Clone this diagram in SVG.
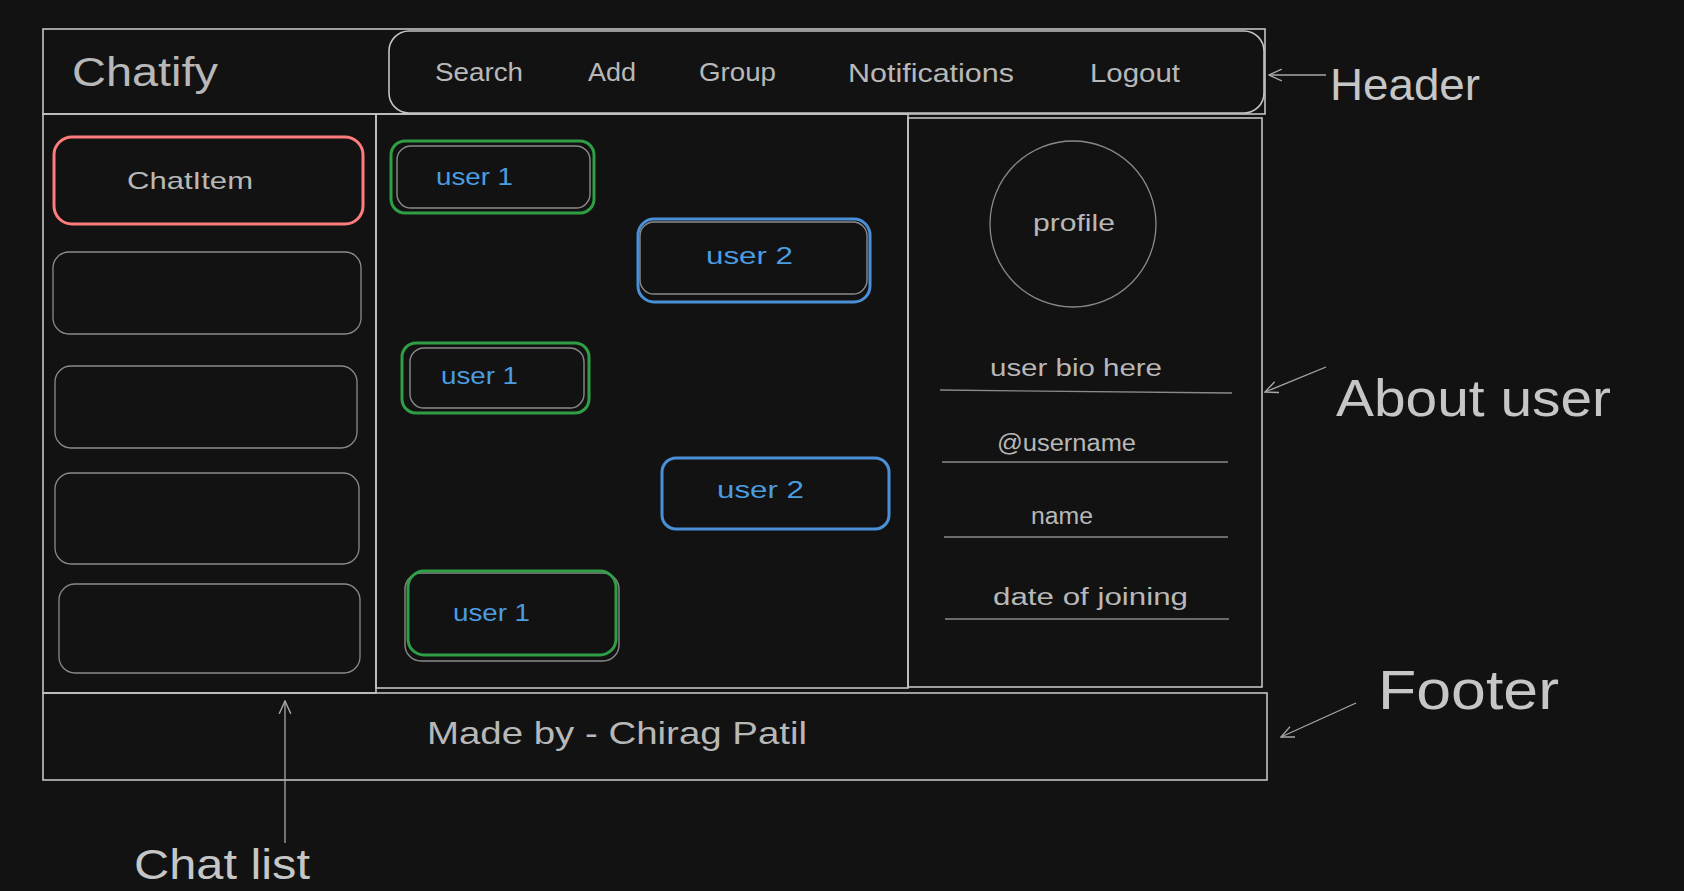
<svg xmlns="http://www.w3.org/2000/svg" width="1684" height="891" viewBox="0 0 1684 891">
<defs>
<style>
.bg{fill:#121212}
.frame{fill:none;stroke:#c4c4c4;stroke-width:1.6}
.thin{fill:none;stroke:#8a8a8a;stroke-width:1.3}
.inner{fill:none;stroke:#8a8a8a;stroke-width:1.4}
.green{fill:none;stroke:#2f9e44;stroke-width:3}
.blue{fill:none;stroke:#4a90d9;stroke-width:3}
.red{fill:none;stroke:#ff7c7c;stroke-width:3}
.t{font-family:"Liberation Sans",Arial,sans-serif;fill:#b8b8b8}
.tb{font-family:"Liberation Sans",Arial,sans-serif;fill:#4a9de0}
.lbl{font-family:"Liberation Sans",Arial,sans-serif;fill:#c6c6c6}
.conn{fill:none;stroke:#a8a8a8;stroke-width:1.3}
</style>
<marker id="ah" viewBox="0 0 12 12" refX="11" refY="6" markerWidth="14" markerHeight="14" markerUnits="userSpaceOnUse" orient="auto">
<path d="M0,1 L11,6 L0,11" fill="none" stroke="#a8a8a8" stroke-width="1.2"/>
</marker>
</defs>
<rect class="bg" x="0" y="0" width="1684" height="891"/>

<g id="header">
<rect class="frame" x="43" y="29" width="1222" height="85"/>
<text class="t" x="72" y="86" font-size="40" textLength="146" lengthAdjust="spacingAndGlyphs">Chatify</text>
</g>
<g id="nav">
<rect class="frame" x="389" y="31" width="875" height="82" rx="20"/>
<text class="t" x="435" y="81" font-size="25" textLength="88" lengthAdjust="spacingAndGlyphs">Search</text>
<text class="t" x="588" y="81" font-size="25" textLength="48" lengthAdjust="spacingAndGlyphs">Add</text>
<text class="t" x="699" y="81" font-size="25" textLength="77" lengthAdjust="spacingAndGlyphs">Group</text>
<text class="t" x="848" y="82" font-size="25" textLength="166" lengthAdjust="spacingAndGlyphs">Notifications</text>
<text class="t" x="1090" y="82" font-size="25" textLength="90" lengthAdjust="spacingAndGlyphs">Logout</text>
</g>

<g id="chat-list">
<rect class="frame" x="43" y="114" width="333" height="579"/>
</g>
<g id="chat-item-1">
<rect class="red" x="54" y="137" width="309" height="87" rx="18"/>
<text class="t" x="127" y="189" font-size="24" textLength="126" lengthAdjust="spacingAndGlyphs">ChatItem</text>
</g>
<g id="chat-item-2"><rect class="thin" x="53" y="252" width="308" height="82" rx="16"/></g>
<g id="chat-item-3"><rect class="thin" x="55" y="366" width="302" height="82" rx="16"/></g>
<g id="chat-item-4"><rect class="thin" x="55" y="473" width="304" height="91" rx="16"/></g>
<g id="chat-item-5"><rect class="thin" x="59" y="584" width="301" height="89" rx="16"/></g>

<g id="chat-area">
<rect class="frame" x="376" y="114" width="532" height="574"/>
</g>
<g id="msg-1">
<rect class="inner" x="397" y="146" width="193" height="62" rx="14"/>
<rect class="green" x="391" y="141" width="203" height="72" rx="14"/>
<text class="tb" x="436" y="185" font-size="24" textLength="77" lengthAdjust="spacingAndGlyphs">user 1</text>
</g>
<g id="msg-2">
<rect class="inner" x="640" y="222" width="227" height="72" rx="14"/>
<rect class="blue" x="638" y="219" width="232" height="83" rx="16"/>
<text class="tb" x="706" y="264" font-size="24" textLength="87" lengthAdjust="spacingAndGlyphs">user 2</text>
</g>
<g id="msg-3">
<rect class="inner" x="410" y="348" width="174" height="60" rx="14"/>
<rect class="green" x="402" y="343" width="187" height="70" rx="14"/>
<text class="tb" x="441" y="384" font-size="24" textLength="77" lengthAdjust="spacingAndGlyphs">user 1</text>
</g>
<g id="msg-4">
<rect class="blue" x="662" y="458" width="227" height="71" rx="14"/>
<text class="tb" x="717" y="498" font-size="24" textLength="87" lengthAdjust="spacingAndGlyphs">user 2</text>
</g>
<g id="msg-5">
<rect class="inner" x="405" y="573" width="214" height="88" rx="16"/>
<rect class="green" x="408" y="571" width="208" height="84" rx="16"/>
<text class="tb" x="453" y="621" font-size="24" textLength="77" lengthAdjust="spacingAndGlyphs">user 1</text>
</g>

<g id="about-panel">
<rect class="frame" x="908" y="118" width="354" height="569"/>
</g>
<g id="profile">
<circle class="thin" cx="1073" cy="224" r="83"/>
<text class="t" x="1033" y="231" font-size="24" textLength="82" lengthAdjust="spacingAndGlyphs">profile</text>
</g>
<g id="bio">
<text class="t" x="990" y="376" font-size="23" textLength="172" lengthAdjust="spacingAndGlyphs">user bio here</text>
<line class="thin" x1="940" y1="390" x2="1232" y2="393"/>
</g>
<g id="username">
<text class="t" x="997" y="451" font-size="23" textLength="139" lengthAdjust="spacingAndGlyphs">@username</text>
<line class="thin" x1="942" y1="462" x2="1228" y2="462"/>
</g>
<g id="name">
<text class="t" x="1031" y="524" font-size="23" textLength="62" lengthAdjust="spacingAndGlyphs">name</text>
<line class="thin" x1="944" y1="537" x2="1228" y2="537"/>
</g>
<g id="joining">
<text class="t" x="993" y="605" font-size="23" textLength="195" lengthAdjust="spacingAndGlyphs">date of joining</text>
<line class="thin" x1="945" y1="619" x2="1229" y2="619"/>
</g>

<g id="footer">
<rect class="frame" x="43" y="693" width="1224" height="87"/>
<text class="t" x="427" y="744" font-size="32" textLength="380" lengthAdjust="spacingAndGlyphs">Made by - Chirag Patil</text>
</g>

<g id="label-header"><text class="lbl" x="1330" y="100" font-size="45" textLength="150" lengthAdjust="spacingAndGlyphs">Header</text></g>
<g id="label-about"><text class="lbl" x="1336" y="416" font-size="52" textLength="275" lengthAdjust="spacingAndGlyphs">About user</text></g>
<g id="label-footer"><text class="lbl" x="1378" y="709" font-size="56" textLength="181" lengthAdjust="spacingAndGlyphs">Footer</text></g>
<g id="label-chatlist"><text class="lbl" x="134" y="879" font-size="42" textLength="176" lengthAdjust="spacingAndGlyphs">Chat list</text></g>

<g id="connectors">
<line class="conn" x1="1326" y1="75" x2="1269" y2="75" marker-end="url(#ah)"/>
<line class="conn" x1="1326" y1="367" x2="1265" y2="392" marker-end="url(#ah)"/>
<line class="conn" x1="1356" y1="703" x2="1281" y2="737" marker-end="url(#ah)"/>
<line class="conn" x1="285" y1="843" x2="285" y2="701" marker-end="url(#ah)"/>
</g>
</svg>
